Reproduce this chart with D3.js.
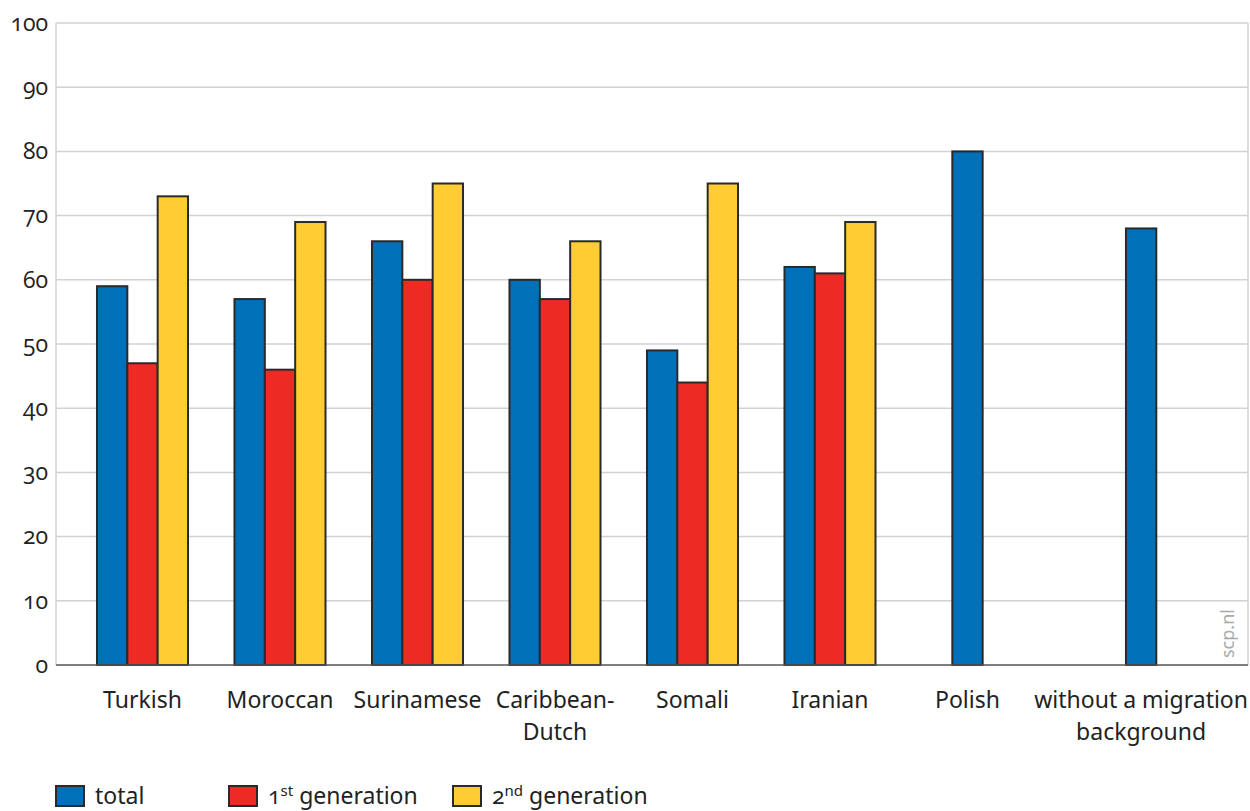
<!DOCTYPE html>
<html><head><meta charset="utf-8">
<script src="https://cdn.jsdelivr.net/npm/d3@7"></script>
<style>
body{margin:0;background:#fff;}
text{font-family:"Noto Sans","Open Sans",sans-serif;fill:#222;}
.num{font-family:"Open Sans","Noto Sans",sans-serif;font-variant-numeric:oldstyle-nums;font-feature-settings:"onum" 1;}
</style></head><body>
<svg id="c" width="1250" height="811"></svg>
<script>
const categories = [["Turkish"],["Moroccan"],["Surinamese"],["Caribbean-","Dutch"],["Somali"],["Iranian"],["Polish"],["without a migration","background"]];
const seriesNames = ["total","1st generation","2nd generation"];
const total = [59,57,66,60,49,62,80,68];
const gen1  = [47,46,60,57,44,61,null,null];
const gen2  = [73,69,75,66,75,69,null,null];
const yTicks = [0,10,20,30,40,50,60,70,80,90,100];
const colors = ["#0070b8","#ee2a24","#fecd33"];

const svg = d3.select("#c");
const L=56, R=1248, T=23, B=665;
const catKeys = categories.map(c=>c.join(" "));
const x = d3.scaleBand().domain(catKeys).range([73.75, 1173.75]).paddingInner(0.338).paddingOuter(0.169);
const y = d3.scaleLinear().domain([0,100]).range([B,T]);

// gridlines
svg.append("g").selectAll("line").data(yTicks.filter(d=>d>0)).join("line")
  .attr("x1",L).attr("x2",R).attr("y1",d=>y(d)).attr("y2",d=>y(d))
  .attr("stroke","#d2d2d2").attr("stroke-width",1.5);
svg.append("line").attr("x1",L).attr("x2",L).attr("y1",T).attr("y2",B).attr("stroke","#d2d2d2").attr("stroke-width",1.5);
svg.append("line").attr("x1",R).attr("x2",R).attr("y1",T).attr("y2",B).attr("stroke","#d2d2d2").attr("stroke-width",1.5);

// y axis labels
const yAxis = d3.axisLeft(y).tickValues(yTicks).tickSize(0).tickPadding(8);
const ga = svg.append("g").attr("transform",`translate(${L},0)`).call(yAxis);
ga.attr("font-size",null).attr("font-family",null);
ga.select(".domain").remove();
ga.selectAll("text").attr("class","num").style("font-size","23px").attr("fill","#222");

// category label positions (last label kept inside plot, right-aligned to its edge)
const labG = svg.append("g");
const labelCenter = {};
categories.forEach((c,i)=>{
  const cx = x(catKeys[i])+x.bandwidth()/2;
  const t = labG.append("text").attr("text-anchor","middle").style("font-size","23px").attr("y",708);
  c.forEach((line,li)=>t.append("tspan").attr("x",cx).attr("dy",li?32:0).text(line));
  let center = cx;
  if (i===categories.length-1) {
    const w = t.node().getBBox().width;
    center = R - w/2;
    t.selectAll("tspan").attr("x",center);
  }
  labelCenter[catKeys[i]] = center;
});

// bars
const series = [total,gen1,gen2];
const sub = d3.scaleBand().domain([0,1,2]).range([0,x.bandwidth()]);
const g = svg.append("g");
catKeys.forEach((k,i)=>{
  const vals = series.map((s,j)=>({j,v:s[i]})).filter(d=>d.v!=null);
  const single = vals.length===1;
  g.selectAll(null).data(vals).join("rect")
    .attr("x",d=> single ? labelCenter[k]-sub.bandwidth()/2 : x(k)+sub(d.j))
    .attr("width",sub.bandwidth())
    .attr("y",d=>y(d.v)).attr("height",d=>y(0)-y(d.v))
    .attr("fill",d=>colors[d.j]).attr("stroke","#2a2a2a").attr("stroke-width",2);
});

// baseline
svg.append("line").attr("x1",L).attr("x2",R).attr("y1",B).attr("y2",B).attr("stroke","#555").attr("stroke-width",1.5);

// watermark
svg.append("text").attr("transform",`translate(1234,658) rotate(-90)`).style("font-size","18px").style("fill","#aaaaaa").text("scp.nl");

// legend
const legX = [56,229,453];
const lg = svg.append("g");
seriesNames.forEach((n,i)=>{
  lg.append("rect").attr("x",legX[i]).attr("y",786).attr("width",28).attr("height",20)
    .attr("fill",colors[i]).attr("stroke","#2a2a2a").attr("stroke-width",2);
  const t = lg.append("text").attr("x",legX[i]+39).attr("y",804).style("font-size","23px");
  if(i===0) t.text(n);
  else {
    const m = n.match(/^(\d)(st|nd)(.*)$/);
    t.append("tspan").attr("class","num").text(m[1]);
    t.append("tspan").attr("dy",-8).style("font-size","15px").text(m[2]);
    t.append("tspan").attr("dy",8).text(m[3]);
  }
});
</script></body></html>
